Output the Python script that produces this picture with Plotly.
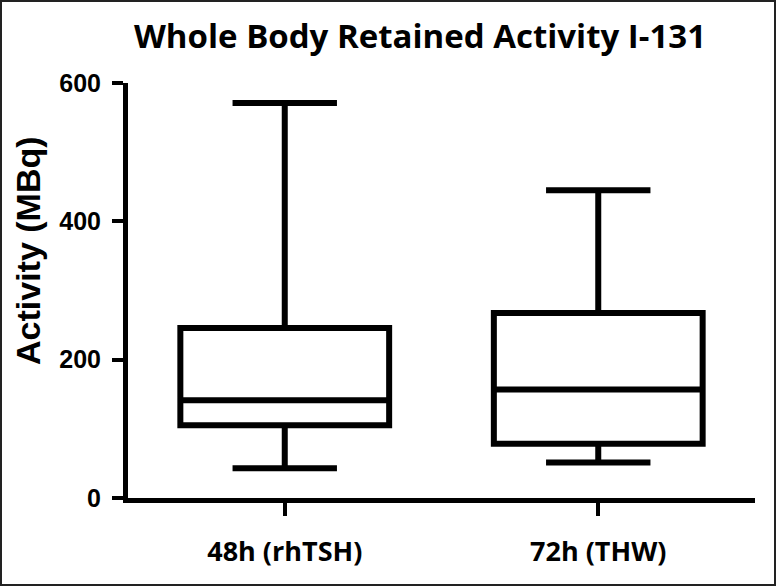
import plotly.graph_objects as go

categories = ["48h (rhTSH)", "72h (THW)"]
minimum = [42.9, 51.2]
q1 = [105.1, 78.6]
median = [141.2, 156.7]
q3 = [245.8, 267.5]
maximum = [571.1, 444.8]
y_ticks = [0, 200, 400, 600]

W, H = 776, 586
L, R, T, B = 128, 21, 83, 88
pw, ph = W - L - R, H - T - B

fig = go.Figure()
fig.add_trace(go.Box(
    x=categories, q1=q1, median=median, q3=q3,
    lowerfence=minimum, upperfence=maximum,
    boxpoints=False, width=0.666, whiskerwidth=0.5,
    fillcolor="white", line=dict(color="black", width=6),
    hoverinfo="skip", showlegend=False,
))

fig.update_layout(
    width=W, height=H, autosize=False,
    margin=dict(l=L, r=R, t=T, b=B, pad=0),
    paper_bgcolor="white", plot_bgcolor="white",
    title=dict(text="<b>Whole Body Retained Activity I-131</b>",
               x=420 / W, xanchor="center", xref="container",
               y=1 - 36 / H, yanchor="middle", yref="container",
               font=dict(family="Open Sans", size=33, color="black")),
    xaxis=dict(
        range=[-0.5, 1.5], showgrid=False, zeroline=False, automargin=False,
        showline=True, linecolor="black", linewidth=5,
        ticks="outside", ticklen=13, tickwidth=4, tickcolor="black",
        tickfont=dict(family="Open Sans", size=27, color="black"),
        ticklabelstandoff=13,
        tickvals=categories, ticktext=["<b>%s</b>" % c for c in categories],
    ),
    yaxis=dict(
        range=[0, 600], showgrid=False, zeroline=False, automargin=False,
        showline=True, linecolor="black", linewidth=5,
        ticks="outside", ticklen=11, tickwidth=4, tickcolor="black",
        tickvals=y_ticks, ticktext=["<b>%d</b>" % v for v in y_ticks],
        tickfont=dict(family="Liberation Sans", size=25, color="black"),
        ticklabelstandoff=6,
    ),
    annotations=[dict(
        text="<b>Activity (MBq)</b>", textangle=-90,
        xref="paper", yref="paper",
        x=(28 - L) / pw, y=(H - B - 251) / ph,
        xanchor="center", yanchor="middle", showarrow=False,
        font=dict(family="Liberation Sans", size=34, color="black"),
    )],
    shapes=[dict(
        type="rect", xref="paper", yref="paper",
        x0=(1 - L) / pw, x1=(W - 1 - L) / pw,
        y0=(H - B - (H - 1)) / ph, y1=(H - B - 1) / ph,
        line=dict(color="#222222", width=2), fillcolor="rgba(0,0,0,0)",
        layer="above",
    )],
)

fig.write_html("out.html", config={"displayModeBar": False},
               post_script="document.body.style.margin='0';document.body.style.overflow='hidden';")
